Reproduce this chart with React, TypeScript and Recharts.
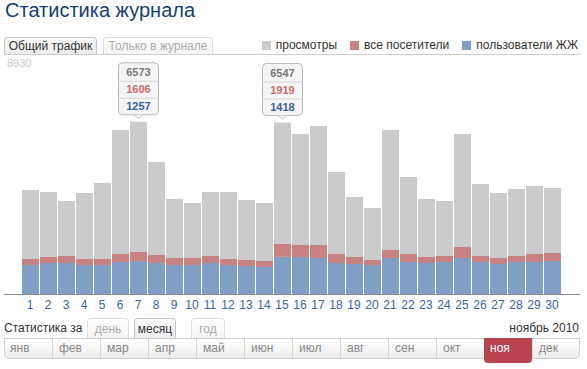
import React from 'react';
import { BarChart, Bar, XAxis, YAxis, LabelList } from 'recharts';

const FONT = "Arial, 'Liberation Sans', sans-serif";

const days = Array.from({ length: 30 }, (_, i) => String(i + 1));
const views = [3969, 3892, 3549, 3854, 4236, 6258, 6573, 5037, 3625, 3473, 3892, 3892, 3587, 3473, 6547,
  6106, 6411, 4656, 3702, 3282, 6258, 4465, 3625, 3549, 6106, 4198, 3854, 4007, 4121, 4045];
const visitors = [1336, 1412, 1450, 1336, 1336, 1526, 1606, 1488, 1374, 1374, 1450, 1336, 1297, 1259, 1919,
  1870, 1870, 1526, 1412, 1297, 1679, 1526, 1412, 1450, 1794, 1450, 1374, 1450, 1526, 1565];
const users = [1107, 1183, 1183, 1107, 1107, 1221, 1257, 1183, 1107, 1107, 1183, 1107, 1068, 1030, 1418,
  1412, 1374, 1183, 1145, 1107, 1374, 1221, 1183, 1221, 1374, 1221, 1145, 1221, 1221, 1259];
const highlighted = [6, 14];
const yMax = 8930;
const months = ['янв', 'фев', 'мар', 'апр', 'май', 'июн', 'июл', 'авг', 'сен', 'окт', 'ноя', 'дек'];
const activeMonth = 10;

const GRAY = '#cbcbcb';
const RED = '#c98282';
const BLUE = '#819ec5';

// bars are drawn overlapping, so stack the differences
const data = days.map((d, i) => ({
  day: d,
  users: users[i],
  extraVisitors: visitors[i] - users[i],
  extraViews: views[i] - visitors[i],
}));

function Bubble(props: any) {
  const { x, y, width, index } = props;
  if (!highlighted.includes(index)) return null;
  const cx = x + width / 2;
  const w = 40;
  const h = 52;
  const bottom = y - 7;
  const top = bottom - h;
  const rows = [
    { v: views[index], c: '#777777' },
    { v: visitors[index], c: '#cf6b6b' },
    { v: users[index], c: '#3a64a8' },
  ];
  return (
    <g>
      <rect x={cx - w / 2} y={top} width={w} height={h} rx={4} fill="#f4f4f4" stroke="#bbbbbb" />
      <path d={`M${cx - 4},${bottom} L${cx},${bottom + 4} L${cx + 4},${bottom}`} fill="#f4f4f4" stroke="#bbbbbb" />
      <line x1={cx - w / 2} x2={cx + w / 2} y1={top + 18.5} y2={top + 18.5} stroke="#d4d4d4" />
      <line x1={cx - w / 2} x2={cx + w / 2} y1={top + 35.5} y2={top + 35.5} stroke="#d4d4d4" />
      {rows.map((r, k) => (
        <text key={k} x={cx} y={top + 13.5 + k * 17} textAnchor="middle" fontFamily={FONT}
          fontSize={11} fontWeight="bold" fill={r.c}>{r.v}</text>
      ))}
    </g>
  );
}

const tab = (active: boolean): React.CSSProperties => ({
  position: 'absolute',
  top: 0,
  height: 17,
  boxSizing: 'border-box',
  border: `1px solid ${active ? '#c4c4c4' : '#dddddd'}`,
  borderBottom: 'none',
  borderRadius: '4px 4px 0 0',
  background: active ? 'linear-gradient(#fafafa, #ececec)' : 'linear-gradient(#ffffff, #f4f4f4)',
  color: active ? '#333' : '#aaa',
  fontSize: 12,
  lineHeight: '16px',
  textAlign: 'center',
});

export default function App() {
  return (
    <div style={{ position: 'absolute', left: 0, top: 0, width: 587, height: 369, background: '#fff', fontFamily: FONT, overflow: 'hidden' }}>
      <div style={{ position: 'absolute', left: 5, top: -1, fontSize: 20, color: '#133f78' }}>Статистика журнала</div>

      {/* top tabs + legend */}
      <div style={{ position: 'absolute', left: 4, top: 37, width: 576, height: 17, borderBottom: '1px solid #cfcfcf' }}>
        <div style={{ ...tab(true), left: 0, width: 93 }}>Общий трафик</div>
        <div style={{ ...tab(false), left: 99, width: 110 }}>Только в журнале</div>
        <div style={{ position: 'absolute', right: 2, top: 1, display: 'flex', alignItems: 'center', fontSize: 12, color: '#333' }}>
          {[['просмотры', GRAY], ['все посетители', RED], ['пользователи ЖЖ', BLUE]].map(([t, c], i) => (
            <span key={t} style={{ display: 'flex', alignItems: 'center', marginLeft: i ? 13 : 0 }}>
              <span style={{ width: 9, height: 9, background: c, marginRight: 5 }} />
              {t}
            </span>
          ))}
        </div>
      </div>

      <div style={{ position: 'absolute', left: 7, top: 57, fontSize: 11, color: '#c8c8c8' }}>{yMax}</div>

      <div style={{ position: 'absolute', left: 0, top: 0 }}>
        <BarChart width={587} height={320} data={data} margin={{ top: 60, right: 26, left: 21, bottom: 0 }} barSize={17}>
          <YAxis hide domain={[0, yMax]} allowDataOverflow />
          <XAxis dataKey="day" height={26} interval={0} tickLine={false} axisLine={false} tickMargin={0}
            tick={{ fill: '#3a64a8', fontSize: 12, fontFamily: FONT }} />
          <Bar dataKey="users" stackId="a" fill={BLUE} isAnimationActive={false} />
          <Bar dataKey="extraVisitors" stackId="a" fill={RED} isAnimationActive={false} />
          <Bar dataKey="extraViews" stackId="a" fill={GRAY} isAnimationActive={false}>
            <LabelList dataKey="extraViews" content={<Bubble />} />
          </Bar>
        </BarChart>
      </div>
      <div style={{ position: 'absolute', left: 4, top: 294, width: 576, height: 1, background: '#8a8a8a' }} />

      {/* bottom period selector */}
      <div style={{ position: 'absolute', left: 4, top: 321, fontSize: 12, color: '#333' }}>Статистика за</div>
      <div style={{ position: 'absolute', left: 0, top: 318, width: 587, height: 20 }}>
        <div style={{ ...tab(false), left: 87, width: 42, height: 20, lineHeight: '20px' }}>день</div>
        <div style={{ ...tab(true), left: 134, width: 42, height: 20, lineHeight: '20px' }}>месяц</div>
        <div style={{ ...tab(false), left: 191, width: 34, height: 20, lineHeight: '20px' }}>год</div>
      </div>
      <div style={{ position: 'absolute', right: 8, top: 321, fontSize: 12, color: '#333' }}>ноябрь 2010</div>
      <div style={{ position: 'absolute', left: 4, top: 338, width: 576, height: 21, boxSizing: 'border-box',
        border: '1px solid #cfcfcf', borderRadius: '0 0 5px 5px', background: 'linear-gradient(#ffffff, #ececec)' }}>
        {months.map((m, i) => {
          const active = i === activeMonth;
          return (
            <div key={m} style={{
              position: 'absolute', left: i * 48 - 1, top: -1, width: 48, height: active ? 25 : 21, boxSizing: 'border-box',
              borderLeft: i && !active ? '1px solid #d4d4d4' : 'none',
              background: active ? '#b8434f' : 'transparent', borderRadius: active ? '0 0 4px 4px' : 0,
              color: active ? '#fff' : '#888', fontSize: 12, lineHeight: '21px', paddingLeft: 6,
            }}>{m}</div>
          );
        })}
      </div>
    </div>
  );
}
